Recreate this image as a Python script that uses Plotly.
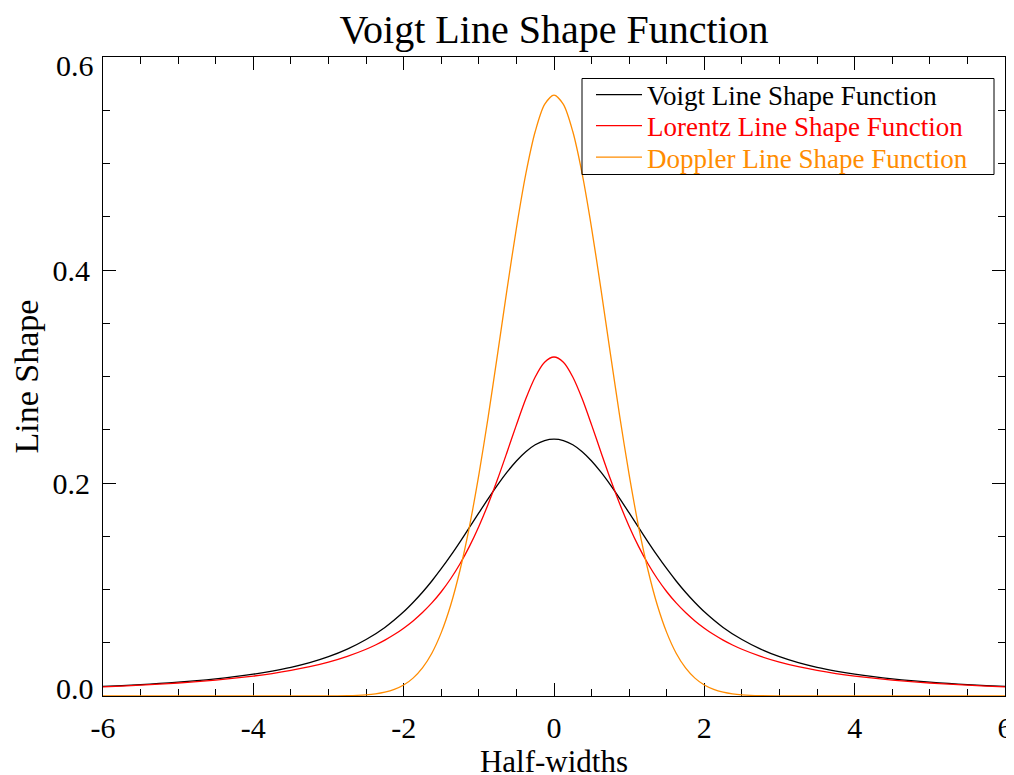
import plotly.graph_objects as go

# ---- data ----
# sampling positions (half-widths) for the Lorentz and Doppler curves
ld_x = [-6.0, -5.75, -5.5, -5.25, -5.0, -4.75, -4.5, -4.25, -4.0, -3.75, -3.5, -3.25, -3.0, -2.75,
        -2.5, -2.375, -2.25, -2.125, -2.0, -1.875, -1.75, -1.625, -1.5, -1.375, -1.25, -1.125,
        -1.0, -0.875, -0.75, -0.625, -0.5, -0.375, -0.25, -0.125,
        0.0,
        0.125, 0.25, 0.375, 0.5, 0.625, 0.75, 0.875, 1.0, 1.125, 1.25, 1.375, 1.5, 1.625,
        1.75, 1.875, 2.0, 2.125, 2.25, 2.375, 2.5,
        2.75, 3.0, 3.25, 3.5, 3.75, 4.0, 4.25, 4.5, 4.75, 5.0, 5.25, 5.5, 5.75, 6.0]

lorentz = [0.0086, 0.0093, 0.0102, 0.0111, 0.0122, 0.0135, 0.0150, 0.0167, 0.0187, 0.0211, 0.0240, 0.0275, 0.0318, 0.0372,
           0.0439, 0.0479, 0.0525, 0.0577, 0.0637, 0.0705, 0.0784, 0.0874, 0.0979, 0.1101, 0.1242, 0.1405,
           0.1592, 0.1803, 0.2037, 0.2289, 0.2546, 0.2791, 0.2996, 0.3134,
           0.3183,
           0.3134, 0.2996, 0.2791, 0.2546, 0.2289, 0.2037, 0.1803, 0.1592, 0.1405, 0.1242, 0.1101, 0.0979, 0.0874,
           0.0784, 0.0705, 0.0637, 0.0577, 0.0525, 0.0479, 0.0439,
           0.0372, 0.0318, 0.0275, 0.0240, 0.0211, 0.0187, 0.0167, 0.0150, 0.0135, 0.0122, 0.0111, 0.0102, 0.0093, 0.0086]

doppler = [0, 0, 0, 0, 0, 0, 0, 0, 0, 0, 0, 0, 0.0001, 0.0003,
           0.0011, 0.0020, 0.0036, 0.0062, 0.0103, 0.0168, 0.0264, 0.0402, 0.0595, 0.0852, 0.1183, 0.1591,
           0.2076, 0.2624, 0.3215, 0.3818, 0.4394, 0.4902, 0.5300, 0.5555,
           0.5642,
           0.5555, 0.5300, 0.4902, 0.4394, 0.3818, 0.3215, 0.2624, 0.2076, 0.1591, 0.1183, 0.0852, 0.0595, 0.0402,
           0.0264, 0.0168, 0.0103, 0.0062, 0.0036, 0.0020, 0.0011,
           0.0003, 0.0001, 0, 0, 0, 0, 0, 0, 0, 0, 0, 0, 0, 0]

# sampling positions for the Voigt curve
voigt_x = [-6.0, -5.75, -5.5, -5.25, -5.0, -4.75, -4.5, -4.25, -4.0, -3.75, -3.5, -3.25, -3.0, -2.75,
           -2.5, -2.25, -2.0,
           -1.875, -1.75, -1.625, -1.5, -1.375, -1.25, -1.125, -1.0, -0.875, -0.75, -0.625, -0.5, -0.375,
           -0.25, -0.125,
           0.0,
           0.125, 0.25, 0.375, 0.5, 0.625, 0.75, 0.875, 1.0, 1.125, 1.25, 1.375, 1.5, 1.625, 1.75, 1.875,
           2.0, 2.25, 2.5,
           2.75, 3.0, 3.25, 3.5, 3.75, 4.0, 4.25, 4.5, 4.75, 5.0, 5.25, 5.5, 5.75, 6.0]

voigt = [0.0090, 0.0098, 0.0107, 0.0118, 0.0130, 0.0144, 0.0161, 0.0181, 0.0205, 0.0234, 0.0269, 0.0313, 0.0369, 0.0440,
         0.0530, 0.0644, 0.0791,
         0.0878, 0.0974, 0.1080, 0.1195, 0.1318, 0.1448, 0.1583, 0.1719, 0.1854, 0.1983, 0.2102, 0.2207, 0.2294,
         0.2359, 0.2399,
         0.2412,
         0.2399, 0.2359, 0.2294, 0.2207, 0.2102, 0.1983, 0.1854, 0.1719, 0.1583, 0.1448, 0.1318, 0.1195, 0.1080,
         0.0974, 0.0878,
         0.0791, 0.0644, 0.0530,
         0.0440, 0.0369, 0.0313, 0.0269, 0.0234, 0.0205, 0.0181, 0.0161, 0.0144, 0.0130, 0.0118, 0.0107, 0.0098, 0.0090]

series_names = ["Voigt Line Shape Function", "Lorentz Line Shape Function", "Doppler Line Shape Function"]
series_colors = ["black", "rgb(255,0,0)", "rgb(255,140,0)"]

x_tick_vals = [-6, -4, -2, 0, 2, 4, 6]
x_tick_text = ["-6", "-4", "-2", "0", "2", "4", "6"]
y_tick_vals = [0.0, 0.2, 0.4, 0.6]
y_tick_text = ["0.0", "0.2", "0.4", "0.6"]

FONT = "Liberation Serif, Times New Roman, serif"

# figure geometry in pixels (the page body adds an 8 px offset)
W, H = 1014, 775
ML, MR, MT, MB = 95, 17, 49, 87
PW, PH = W - ML - MR, H - MT - MB


def px_to_paper_x(px):
    return (px - ML) / PW


def px_to_paper_y(py):
    return (H - MB - py) / PH


fig = go.Figure()
legend_ids = ["legend", "legend2", "legend3"]
for name, xs, ys, col, lg in zip(series_names, [voigt_x, ld_x, ld_x], [voigt, lorentz, doppler],
                                 series_colors, legend_ids):
    fig.add_trace(go.Scatter(x=xs, y=ys, mode="lines", name=name, legend=lg,
                             line=dict(color=col, width=1.3, shape="spline", smoothing=0.8)))

shown_text = [t if 0 < i < len(y_tick_text) - 1 else "" for i, t in enumerate(y_tick_text)]

axis_common = dict(showgrid=False, zeroline=False, showline=True, linecolor="black", linewidth=1,
                   mirror="ticks", ticks="inside", ticklen=13, tickwidth=1, tickcolor="black",
                   layer="below traces", automargin=False,
                   tickfont=dict(family=FONT, size=30, color="black"))

row_y = [87.0, 118.0, 149.5]
legend_layouts = {}
for lg, ry, col in zip(legend_ids, row_y, series_colors):
    legend_layouts[lg] = dict(x=px_to_paper_x(583), y=px_to_paper_y(ry), xanchor="left", yanchor="middle",
                              bgcolor="rgba(0,0,0,0)", borderwidth=0, itemwidth=46,
                              font=dict(family=FONT, size=27, color=col))

fig.update_layout(
    width=W, height=H, autosize=False,
    margin=dict(l=ML, r=MR, t=MT, b=MB),
    paper_bgcolor="white", plot_bgcolor="white",
    font=dict(family=FONT, color="black"),
    title=dict(text="Voigt Line Shape Function", x=px_to_paper_x(ML + PW / 2), xref="paper",
               xanchor="center", y=0.973, yanchor="middle", yref="container",
               font=dict(family=FONT, size=40, color="black")),
    xaxis=dict(range=[-6, 6], tickvals=x_tick_vals, ticktext=x_tick_text,
               minor=dict(dtick=0.5, ticks="inside", ticklen=7, tickcolor="black", tickwidth=1),
               ticklabelstandoff=5,
               title=dict(text="Half-widths", font=dict(family=FONT, size=31), standoff=6),
               **axis_common),
    yaxis=dict(range=[0, 0.6], tickvals=y_tick_vals, ticktext=shown_text,
               minor=dict(dtick=0.05, ticks="inside", ticklen=7, tickcolor="black", tickwidth=1),
               ticklabelstandoff=6,
               title=dict(text="Line Shape", font=dict(family=FONT, size=34), standoff=16),
               **axis_common),
    showlegend=True,
    **legend_layouts,
)

# legend frame
fig.add_shape(type="rect", xref="paper", yref="paper",
              x0=px_to_paper_x(574), x1=px_to_paper_x(986),
              y0=px_to_paper_y(166.5), y1=px_to_paper_y(70.5),
              line=dict(color="black", width=1), fillcolor="rgba(0,0,0,0)", layer="above")

# end labels of the y axis, kept inside the axis span
for i in (0, len(y_tick_vals) - 1):
    fig.add_annotation(x=0, xref="paper", y=y_tick_vals[i], yref="y", text=y_tick_text[i],
                       showarrow=False, xanchor="right", xshift=-7,
                       yshift=8 if i == 0 else -8,
                       font=dict(family=FONT, size=30, color="black"))

fig.write_html("out.html")
